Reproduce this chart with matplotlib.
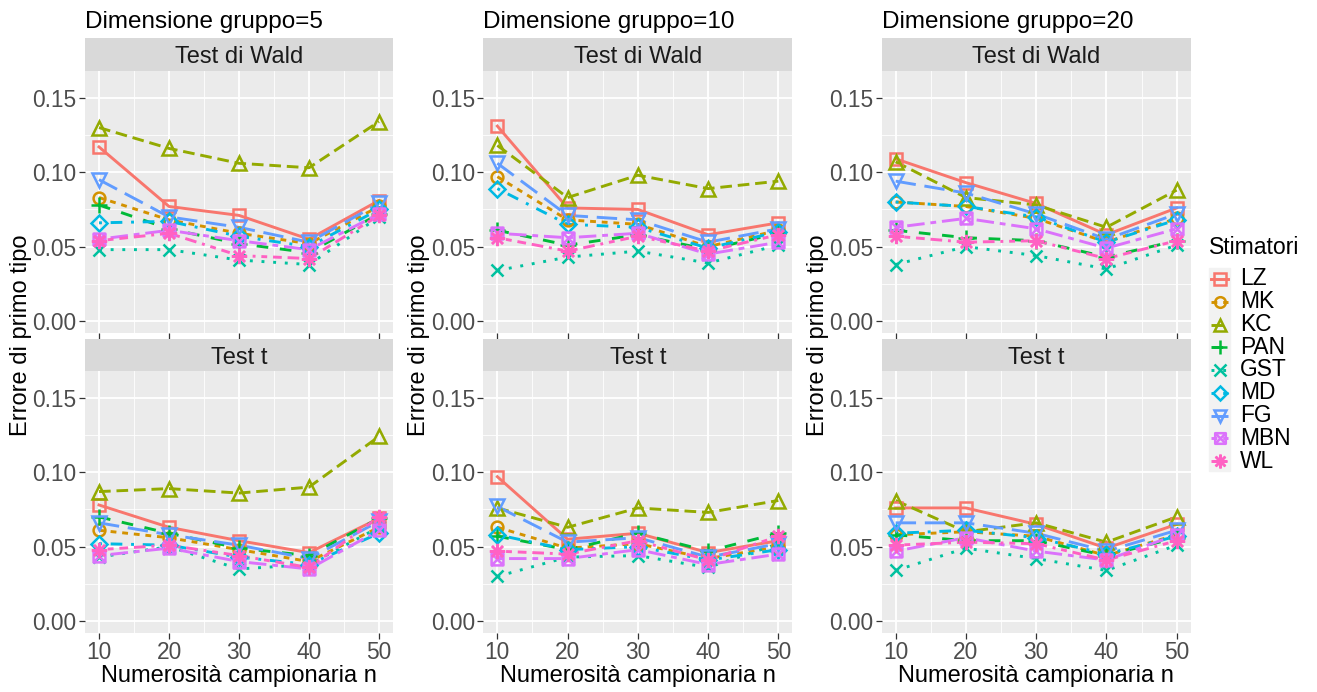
import numpy as np
import matplotlib
matplotlib.use('Agg')
import matplotlib.pyplot as plt
from matplotlib.path import Path
from matplotlib.lines import Line2D
from matplotlib.patches import Rectangle

plt.rcParams['font.family'] = ['Liberation Sans', 'DejaVu Sans']

n_values = [10, 20, 30, 40, 50]
estimators = ['LZ', 'MK', 'KC', 'PAN', 'GST', 'MD', 'FG', 'MBN', 'WL']
group_sizes = [5, 10, 20]
tests = ['Test di Wald', 'Test t']

# errore di primo tipo, [test][stimatore] per dimensione gruppo
wald_g5 = {
    'LZ':  [0.117, 0.077, 0.071, 0.055, 0.081],
    'MK':  [0.083, 0.068, 0.059, 0.052, 0.077],
    'KC':  [0.130, 0.116, 0.106, 0.103, 0.134],
    'PAN': [0.078, 0.062, 0.052, 0.046, 0.072],
    'GST': [0.048, 0.048, 0.041, 0.038, 0.070],
    'MD':  [0.066, 0.067, 0.057, 0.050, 0.075],
    'FG':  [0.095, 0.070, 0.063, 0.053, 0.079],
    'MBN': [0.055, 0.061, 0.054, 0.048, 0.072],
    'WL':  [0.054, 0.059, 0.044, 0.042, 0.071],
}
t_g5 = {
    'LZ':  [0.078, 0.063, 0.054, 0.046, 0.069],
    'MK':  [0.061, 0.056, 0.048, 0.040, 0.063],
    'KC':  [0.087, 0.089, 0.086, 0.090, 0.124],
    'PAN': [0.070, 0.059, 0.049, 0.044, 0.069],
    'GST': [0.043, 0.050, 0.035, 0.038, 0.063],
    'MD':  [0.052, 0.051, 0.043, 0.038, 0.059],
    'FG':  [0.066, 0.058, 0.051, 0.042, 0.067],
    'MBN': [0.044, 0.049, 0.040, 0.035, 0.061],
    'WL':  [0.048, 0.051, 0.044, 0.036, 0.070],
}
wald_g10 = {
    'LZ':  [0.131, 0.076, 0.075, 0.058, 0.066],
    'MK':  [0.097, 0.068, 0.065, 0.050, 0.061],
    'KC':  [0.118, 0.083, 0.098, 0.089, 0.094],
    'PAN': [0.061, 0.051, 0.058, 0.048, 0.059],
    'GST': [0.034, 0.043, 0.047, 0.039, 0.051],
    'MD':  [0.089, 0.065, 0.063, 0.049, 0.060],
    'FG':  [0.106, 0.071, 0.068, 0.053, 0.062],
    'MBN': [0.059, 0.056, 0.059, 0.045, 0.053],
    'WL':  [0.056, 0.047, 0.057, 0.047, 0.058],
}
t_g10 = {
    'LZ':  [0.097, 0.055, 0.059, 0.046, 0.054],
    'MK':  [0.063, 0.049, 0.052, 0.042, 0.050],
    'KC':  [0.076, 0.063, 0.076, 0.073, 0.081],
    'PAN': [0.057, 0.048, 0.059, 0.047, 0.059],
    'GST': [0.030, 0.043, 0.044, 0.036, 0.052],
    'MD':  [0.058, 0.048, 0.050, 0.041, 0.048],
    'FG':  [0.077, 0.053, 0.056, 0.043, 0.052],
    'MBN': [0.042, 0.042, 0.048, 0.038, 0.045],
    'WL':  [0.047, 0.045, 0.054, 0.041, 0.057],
}
wald_g20 = {
    'LZ':  [0.109, 0.093, 0.079, 0.058, 0.076],
    'MK':  [0.080, 0.077, 0.069, 0.053, 0.069],
    'KC':  [0.107, 0.083, 0.078, 0.063, 0.088],
    'PAN': [0.061, 0.056, 0.054, 0.043, 0.054],
    'GST': [0.038, 0.050, 0.044, 0.035, 0.051],
    'MD':  [0.080, 0.077, 0.070, 0.053, 0.068],
    'FG':  [0.094, 0.086, 0.072, 0.055, 0.072],
    'MBN': [0.063, 0.069, 0.062, 0.049, 0.062],
    'WL':  [0.057, 0.053, 0.054, 0.042, 0.054],
}
t_g20 = {
    'LZ':  [0.076, 0.076, 0.065, 0.049, 0.065],
    'MK':  [0.058, 0.060, 0.057, 0.044, 0.058],
    'KC':  [0.081, 0.060, 0.066, 0.053, 0.070],
    'PAN': [0.058, 0.054, 0.054, 0.044, 0.056],
    'GST': [0.034, 0.049, 0.042, 0.034, 0.051],
    'MD':  [0.059, 0.061, 0.056, 0.045, 0.057],
    'FG':  [0.066, 0.066, 0.059, 0.047, 0.061],
    'MBN': [0.047, 0.056, 0.047, 0.041, 0.058],
    'WL':  [0.051, 0.053, 0.052, 0.041, 0.054],
}
panels = [[wald_g5, t_g5], [wald_g10, t_g10], [wald_g20, t_g20]]

# stile ggplot2
colors = ['#F8766D', '#D39200', '#93AA00', '#00BA38', '#00C19F',
          '#00B9E3', '#619CFF', '#DB72FB', '#FF61C3']
dashes = [None, (2, 2), (4, 2), (4, 4), (1, 3), (1, 3, 4, 3), (7, 3), (2, 2, 6, 2),
          (1, 2, 2, 2, 3, 2, 4, 2)]
sq_cross = Path([(-1, -1), (1, -1), (1, 1), (-1, 1), (-1, -1), (1, 1), (-1, 1), (1, -1)],
                [Path.MOVETO, Path.LINETO, Path.LINETO, Path.LINETO, Path.LINETO,
                 Path.LINETO, Path.MOVETO, Path.LINETO])
markers = ['s', 'o', '^', '+', 'x', 'D', 'v', sq_cross, (8, 2, 0)]
msizes = [9, 8.5, 10, 11, 9, 8, 10, 8.5, 11]

W, H = 1317, 692
fig = plt.figure(figsize=(W / 100, H / 100), dpi=100)

def fx(px):
    return px / W

def fy(py):
    return 1 - py / H

col_x = [(85, 393), (483.3, 792.4), (881.6, 1190.7)]
row_y = [(71, 333), (371, 633)]
strip_y = [(38, 71), (339, 371)]
LW = 2.1

for c, (x0, x1) in enumerate(col_x):
    for r in range(2):
        y0, y1 = row_y[r]
        ax = fig.add_axes([fx(x0), fy(y1), fx(x1 - x0), (y1 - y0) / H])
        ax.set_facecolor('#EBEBEB')
        for s in ax.spines.values():
            s.set_visible(False)
        ax.set_xlim(8, 52)
        ax.set_ylim(-0.008, 0.168)
        ax.set_xticks(n_values)
        ax.set_xticks([15, 25, 35, 45], minor=True)
        ax.set_yticks([0, 0.05, 0.10, 0.15])
        ax.set_yticks([0.025, 0.075, 0.125], minor=True)
        ax.set_yticklabels(['0.00', '0.05', '0.10', '0.15'])
        ax.grid(which='major', color='white', lw=1.3)
        ax.grid(which='minor', color='white', lw=0.6)
        ax.set_axisbelow(True)
        ax.tick_params(which='major', length=4, width=0.9, color='#333333',
                       labelsize=16.4, labelcolor='#4D4D4D', pad=2)
        ax.tick_params(which='minor', length=0)
        if r == 0:
            ax.tick_params(axis='x', labelbottom=False)
        data = panels[c][r]
        for i, est in enumerate(estimators):
            ln, = ax.plot(n_values, data[est], color=colors[i], lw=LW, zorder=2)
            if dashes[i] is not None:
                ln.set_dashes(dashes[i])
        for i, est in enumerate(estimators):
            ax.plot(n_values, data[est], ls='none', marker=markers[i], ms=msizes[i],
                    mfc='none', mec=colors[i], mew=1.8, zorder=3)
        # strip
        sy0, sy1 = strip_y[r]
        sax = fig.add_axes([fx(x0), fy(sy1), fx(x1 - x0), (sy1 - sy0) / H])
        sax.set_facecolor('#D9D9D9')
        sax.set_xticks([])
        sax.set_yticks([])
        for s in sax.spines.values():
            s.set_visible(False)
        sax.text(0.5, 0.5, tests[r], ha='center', va='center_baseline', fontsize=17,
                 color='#1A1A1A', transform=sax.transAxes)
    fig.text(fx(x0), fy(28), 'Dimensione gruppo=%d' % group_sizes[c], fontsize=17.5,
             ha='left', va='baseline')
    fig.text(fx((x0 + x1) / 2), fy(676), 'Numerosità campionaria n', fontsize=17,
             ha='center', va='center')
    fig.text(fx(x0 - 64), fy(335), 'Errore di primo tipo', fontsize=17,
             ha='center', va='center', rotation=90)

# legenda
fig.text(fx(1209), fy(248), 'Stimatori', fontsize=16.6, ha='left', va='center')
fig.add_artist(Rectangle((fx(1209), fy(471)), fx(21), (471 - 268) / H,
                         transform=fig.transFigure, color='#F2F2F2', zorder=0))
for i, est in enumerate(estimators):
    yy = fy(279 + i * 22.75)
    ln = Line2D([fx(1211), fx(1228)], [yy, yy], transform=fig.transFigure,
                color=colors[i], lw=LW)
    if dashes[i] is not None:
        ln.set_dashes(dashes[i])
    fig.add_artist(ln)
    fig.add_artist(Line2D([fx(1219.5)], [yy], transform=fig.transFigure, ls='none',
                          marker=markers[i], ms=msizes[i] * 0.9, mfc='none',
                          mec=colors[i], mew=1.8))
    fig.text(fx(1240), yy, est, fontsize=16.4, ha='left', va='center')

fig.savefig('out.png', dpi=100)
